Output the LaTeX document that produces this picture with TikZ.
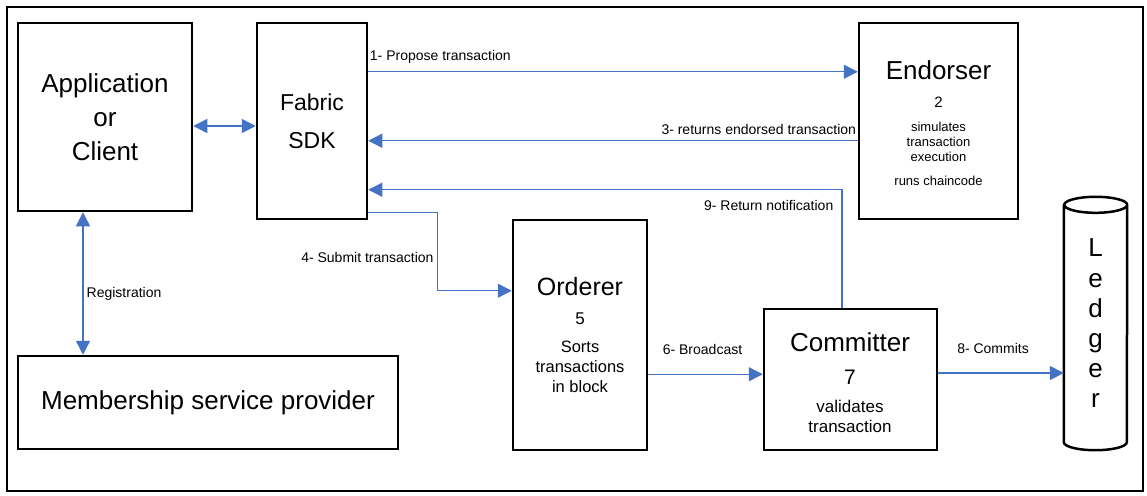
\documentclass[tikz,border=0pt]{standalone}
\usepackage{fontspec}
\setmainfont{Liberation Sans}
\usetikzlibrary{arrows.meta,positioning}
\definecolor{flowblue}{RGB}{68,114,196}
\newcommand{\fsz}[2]{\fontsize{#1}{#2}\selectfont}

\begin{document}
\begin{tikzpicture}[x=1pt, y=-1pt,
	box/.style={draw, line width=2.5pt, inner sep=0pt, align=center},
	flow/.style={flowblue, line width=1.4pt, -{Triangle[length=14pt,width=14pt]}},
	twoway/.style={flowblue, line width=1.4pt, {Triangle[length=14pt,width=14pt]}-{Triangle[length=14pt,width=14pt]}},
	steplabel/.style={text=black, font=\fsz{14}{16}, inner sep=1pt}]
		\useasboundingbox (0,0) rectangle (1147,495);
		% Outer frame
		\draw[line width=2pt] (7,7) rectangle (1143,491);
		% Client side
		\node[box, minimum width=174pt, minimum height=188pt, font=\fsz{26}{34}] (app) at (105,117) {Application\\or\\Client};
		\node[box, minimum width=110pt, minimum height=196pt, font=\fsz{23}{38}] (sdk) at (312,121) {Fabric\\SDK};
		\node[box, minimum width=380pt, minimum height=93pt, font=\fsz{26}{30}] (msp) at (208,402.5) {Membership service provider};
		% Endorser
		\node[box, minimum width=159pt, minimum height=196pt] (endorser) at (938.5,121) {};
		\node[font=\fsz{26}{30}] (endorsertitle) at (938.5,70) {Endorser};
		\node[font=\fsz{15}{18}] (endorsernum) at (938.5,102) {2};
		\node[font=\fsz{13}{15}, align=center] (endorsertask) at (938.5,154) {simulates\\transaction\\execution\\[9pt]runs chaincode};
		% Orderer
		\node[box, minimum width=134pt, minimum height=230pt] (orderer) at (580,335) {};
		\node[font=\fsz{25}{30}] (orderertitle) at (580,287) {Orderer};
		\node[font=\fsz{17}{20}] (orderernum) at (580,319) {5};
		\node[font=\fsz{16.5}{20}, align=center] (orderertask) at (580,367) {Sorts\\transactions\\in block};
		% Committer
		\node[box, minimum width=173pt, minimum height=141pt] (committer) at (850.5,379.5) {};
		\node[font=\fsz{26}{30}] (committertitle) at (850,342) {Committer};
		\node[font=\fsz{21}{24}] (committernum) at (850,377) {7};
		\node[font=\fsz{17}{20}, align=center] (committertask) at (850,416) {validates\\transaction};
		% Ledger (cylinder)
		\node[minimum width=63pt, minimum height=253pt, inner sep=0pt, font=\fsz{26}{30.2}, align=center] (ledger) at (1095.5,323.5) {L\\e\\d\\g\\e\\r};
		\draw[line width=2.5pt] ([yshift=-8pt]ledger.north west) -- ([yshift=8pt]ledger.south west)
			arc[start angle=180, end angle=360, x radius=31.5pt, y radius=8pt]
			-- ([yshift=-8pt]ledger.north east)
			arc[start angle=0, end angle=180, x radius=31.5pt, y radius=8pt]
			arc[start angle=180, end angle=360, x radius=31.5pt, y radius=8pt];
		% Connectors
		\draw[twoway] ([yshift=-9pt]app.east) -- ([yshift=-9pt]app.east -| sdk.west);
		\draw[twoway] ([xshift=-22pt]app.south) -- ([xshift=-22pt]app.south |- msp.north)
			node[steplabel, pos=0.57, anchor=west, xshift=2pt] {Registration};
		\draw[flow] ([yshift=-50pt]sdk.north east) -- ([yshift=-50pt]endorser.north west)
			node[steplabel, pos=0, anchor=south west, yshift=7pt] {1- Propose transaction};
		\draw[flow] ([yshift=-119pt]endorser.north west) -- ([yshift=-119pt]endorser.north west -| sdk.east)
			node[steplabel, pos=0, anchor=south east, yshift=4pt] {3- returns endorsed transaction};
		\draw[flow] ([yshift=8pt]sdk.south east) -- ++(69pt,0) |- ([yshift=-72pt]orderer.north west)
			node[steplabel, pos=0.29, anchor=east, xshift=-2pt] {4- Submit transaction};
		\draw[flow] ([yshift=77pt]orderer.south east) -- ([yshift=77pt]orderer.south east -| committer.west)
			node[steplabel, midway, above=18pt, xshift=-3pt] {6- Broadcast};
		\draw[flow] ([yshift=6.5pt]committer.east) -- ([yshift=6.5pt]committer.east -| ledger.west)
			node[steplabel, midway, above=18pt, xshift=-8pt] {8- Commits};
		\draw[flow] ([xshift=-8.5pt]committer.north) |- ([yshift=-168pt]sdk.north east)
			node[steplabel, pos=0.5, anchor=north east, xshift=-7pt, yshift=-9pt] {9- Return notification};
	\end{tikzpicture}
\end{document}
